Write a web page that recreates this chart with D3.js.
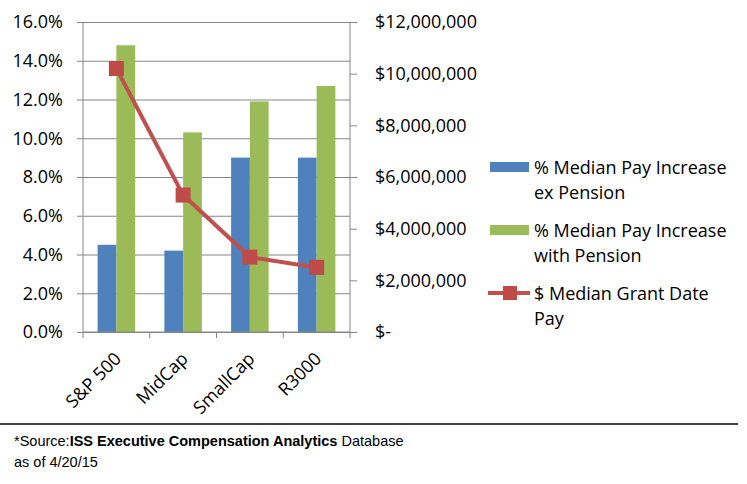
<!doctype html>
<html>
<head>
  <meta charset="utf-8">
  <title>Median Pay Increase</title>
  <script src="https://cdn.jsdelivr.net/npm/d3@7"></script>
  <style>
    body { margin: 0; background: #fff; }
    svg { display: block; font-family: "Open Sans", sans-serif; }
  </style>
</head>
<body>
  <div id="chart"></div>

  <script type="text/javascript">
    var width = 747;
    var height = 484;

    var categories = ['S&P 500', 'MidCap', 'SmallCap', 'R3000'];
    var exPension = [4.5, 4.2, 9.0, 9.0];
    var withPension = [14.8, 10.3, 11.9, 12.7];
    var grantPay = [10200000, 5300000, 2900000, 2500000];
    var leftTicks = [0, 2, 4, 6, 8, 10, 12, 14, 16];
    var rightTicks = [0, 2000000, 4000000, 6000000, 8000000, 10000000, 12000000];
    var legendLabels = [
      ['% Median Pay Increase', 'ex Pension'],
      ['% Median Pay Increase', 'with Pension'],
      ['$ Median Grant Date', 'Pay']
    ];

    var blue = '#4f81bd', green = '#9bbb59', red = '#c0504d', grey = '#868686';

    var plot = { left: 83, right: 350, top: 22, bottom: 332 };

    var svg = d3.select('#chart')
      .append('svg')
      .attr('width', width)
      .attr('height', height);

    var x = d3.scaleBand()
      .domain(categories)
      .range([plot.left, plot.right]);

    var inner = d3.scaleBand()
      .domain(['ex', 'with'])
      .range([0, x.bandwidth()])
      .paddingOuter(0.78);

    var yLeft = d3.scaleLinear().domain([0, 16]).range([plot.bottom, plot.top]);
    var yRight = d3.scaleLinear().domain([0, 12000000]).range([plot.bottom, plot.top]);

    // gridlines + left axis
    var leftAxis = d3.axisLeft(yLeft)
      .tickValues(leftTicks)
      .tickSize(-(plot.right - plot.left))
      .tickPadding(14)
      .tickFormat(function(d) { return d.toFixed(1) + '%'; });

    var gl = svg.append('g')
      .attr('transform', 'translate(' + plot.left + ',0)')
      .call(leftAxis);
    gl.select('.domain').remove();
    gl.selectAll('line').attr('stroke', grey).attr('x1', -6);
    gl.selectAll('text')
      .attr('font-size', '18px')
      .attr('fill', '#000')
      .attr('x', -20)
      .attr('font-family', '"Open Sans", sans-serif');

    svg.append('line')
      .attr('x1', plot.left).attr('x2', plot.left)
      .attr('y1', plot.top).attr('y2', plot.bottom)
      .attr('stroke', grey);

    // right axis
    var rightAxis = d3.axisRight(yRight)
      .tickValues(rightTicks)
      .tickSize(7)
      .tickPadding(18)
      .tickFormat(function(d) { return d === 0 ? '$-' : d3.format('$,')(d); });

    var gr = svg.append('g')
      .attr('transform', 'translate(' + plot.right + ',0)')
      .call(rightAxis);
    gr.select('.domain').attr('stroke', grey).attr('d', 'M0,' + plot.top + 'V' + plot.bottom);
    gr.selectAll('line').attr('stroke', grey);
    gr.selectAll('text')
      .attr('font-size', '18px')
      .attr('fill', '#000')
      .attr('font-family', '"Open Sans", sans-serif');

    // bars
    var groups = svg.selectAll('g.cat')
      .data(categories)
      .enter()
      .append('g')
      .attr('class', 'cat')
      .attr('transform', function(d) { return 'translate(' + x(d) + ',0)'; });

    groups.append('rect')
      .attr('x', inner('ex'))
      .attr('width', inner.bandwidth())
      .attr('y', function(d, i) { return yLeft(exPension[i]); })
      .attr('height', function(d, i) { return plot.bottom - yLeft(exPension[i]); })
      .attr('fill', blue);

    groups.append('rect')
      .attr('x', inner('with'))
      .attr('width', inner.bandwidth())
      .attr('y', function(d, i) { return yLeft(withPension[i]); })
      .attr('height', function(d, i) { return plot.bottom - yLeft(withPension[i]); })
      .attr('fill', green);

    // bottom axis
    var bottomAxis = d3.axisBottom(x).tickSize(0).tickFormat('');
    var gb = svg.append('g')
      .attr('transform', 'translate(0,' + plot.bottom + ')')
      .call(bottomAxis);
    gb.select('.domain').attr('stroke', grey).attr('d', 'M' + plot.left + ',0H' + plot.right);

    svg.selectAll('line.xtick')
      .data(categories.concat(['end']))
      .enter()
      .append('line')
      .attr('class', 'xtick')
      .attr('x1', function(d, i) { return plot.left + i * x.step(); })
      .attr('x2', function(d, i) { return plot.left + i * x.step(); })
      .attr('y1', plot.bottom)
      .attr('y2', plot.bottom + 6)
      .attr('stroke', grey);

    svg.selectAll('text.xlabel')
      .data(categories)
      .enter()
      .append('text')
      .attr('class', 'xlabel')
      .text(function(d) { return d; })
      .attr('text-anchor', 'end')
      .attr('font-size', '18px')
      .attr('transform', function(d) {
        var cx = x(d) + x.bandwidth() / 2 + 6;
        return 'translate(' + cx + ',' + (plot.bottom + 28) + ') rotate(-45)';
      });

    // line series
    var line = d3.line()
      .x(function(d, i) { return x(categories[i]) + x.bandwidth() / 2; })
      .y(function(d) { return yRight(d); });

    svg.append('path')
      .datum(grantPay)
      .attr('d', line)
      .attr('fill', 'none')
      .attr('stroke', red)
      .attr('stroke-width', 4)
      .attr('stroke-linejoin', 'round');

    var ms = 15;
    svg.selectAll('rect.marker')
      .data(grantPay)
      .enter()
      .append('rect')
      .attr('class', 'marker')
      .attr('x', function(d, i) { return x(categories[i]) + x.bandwidth() / 2 - ms / 2; })
      .attr('y', function(d) { return yRight(d) - ms / 2; })
      .attr('width', ms)
      .attr('height', ms)
      .attr('fill', '#be4b48');

    // legend
    var legendY = [167, 230, 293];
    var legend = svg.selectAll('g.legend')
      .data(legendLabels)
      .enter()
      .append('g')
      .attr('class', 'legend')
      .attr('transform', function(d, i) { return 'translate(490,' + legendY[i] + ')'; });

    legend.filter(function(d, i) { return i < 2; })
      .append('rect')
      .attr('x', 0)
      .attr('y', -5)
      .attr('width', 39)
      .attr('height', 10)
      .attr('fill', function(d, i) { return i === 0 ? blue : green; });

    var lg = legend.filter(function(d, i) { return i === 2; });
    lg.append('line')
      .attr('x1', -2).attr('x2', 40)
      .attr('stroke', red).attr('stroke-width', 4);
    lg.append('rect')
      .attr('x', 20 - 7).attr('y', -7)
      .attr('width', 14).attr('height', 14)
      .attr('fill', '#be4b48');

    legend.append('text')
      .attr('x', 44)
      .attr('y', 6.5)
      .attr('font-size', '18px')
      .selectAll('tspan')
      .data(function(d) { return d; })
      .enter()
      .append('tspan')
      .attr('x', 44)
      .attr('dy', function(d, i) { return i === 0 ? 0 : 25; })
      .text(function(d) { return d; });

    // footer
    svg.append('line')
      .attr('x1', 0).attr('x2', 738)
      .attr('y1', 424).attr('y2', 424)
      .attr('stroke', '#000')
      .attr('stroke-width', 1.5);

    var foot = svg.append('text')
      .attr('x', 14)
      .attr('y', 446)
      .attr('font-size', '14.5px')
      .attr('font-family', '"Liberation Sans", Arial, sans-serif');
    foot.append('tspan').text('*Source:');
    foot.append('tspan').attr('font-weight', 'bold').text('ISS Executive Compensation Analytics');
    foot.append('tspan').text(' Database');

    svg.append('text')
      .attr('x', 14)
      .attr('y', 467)
      .attr('font-size', '14.5px')
      .attr('font-family', '"Liberation Sans", Arial, sans-serif')
      .text('as of 4/20/15');
  </script>
</body>
</html>
